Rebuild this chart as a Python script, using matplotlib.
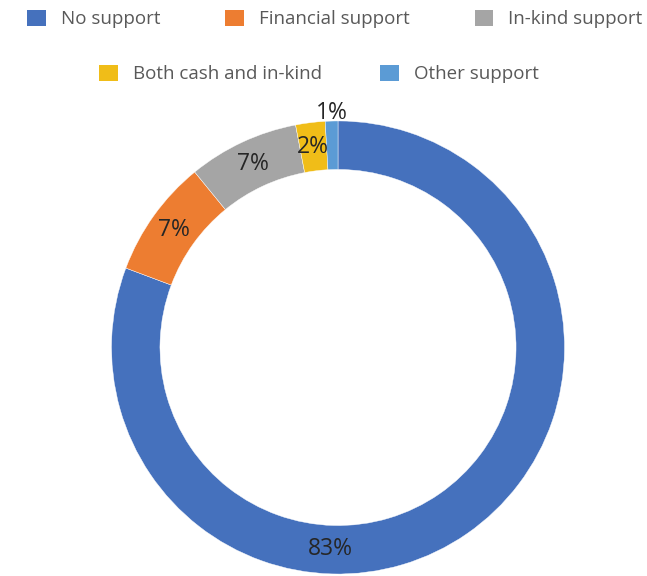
import matplotlib
matplotlib.use("Agg")
import matplotlib.pyplot as plt
import numpy as np
from matplotlib.patches import Patch

plt.rcParams['font.family'] = ['Open Sans', 'DejaVu Sans']

categories = ["No support", "Financial support", "In-kind support",
              "Both cash and in-kind", "Other support"]
values = [80.7, 8.4, 7.9, 2.1, 0.9]
labels = ["83%", "7%", "7%", "2%", "1%"]
colors = ["#4571BD", "#ED7D31", "#A5A5A5", "#F0BD18", "#5B9BD5"]

fig = plt.figure(figsize=(6.47, 5.76), dpi=100)
ax = fig.add_axes([0, 0, 1, 1])

wedges, _ = ax.pie(values, radius=1.0, startangle=90, counterclock=False,
                   colors=colors,
                   wedgeprops=dict(width=0.214, edgecolor='white', linewidth=0.3))

ax.set_xlim(-1.4923, 1.3642)
ax.set_ylim(-1.0088, 1.534)
ax.set_aspect('auto')
ax.axis('off')

# label placement (angle overrides / radii)
angle_override = {0: 267.7}
radius_override = {4: 1.035}
for i, (w, lab) in enumerate(zip(wedges, labels)):
    ang = angle_override.get(i, (w.theta1 + w.theta2) / 2.0)
    r = radius_override.get(i, 0.892)
    x = r * np.cos(np.deg2rad(ang))
    y = r * np.sin(np.deg2rad(ang))
    ax.text(x, y, lab, ha='center', va='center', fontsize=16.5, color='#262626')

handles = [Patch(facecolor=c, edgecolor='none') for c in colors]

common = dict(frameon=False, fontsize=13.5, handlelength=1.0, handleheight=1.0,
              handletextpad=0.8, labelcolor='#595959', borderaxespad=0, borderpad=0)
leg1 = fig.legend(handles[:3], categories[:3], ncol=3, loc='center',
                  bbox_to_anchor=(335 / 647, 1 - 19 / 576), columnspacing=3.45, **common)
leg2 = fig.legend(handles[3:], categories[3:], ncol=2, loc='center',
                  bbox_to_anchor=(319 / 647, 1 - 74 / 576), columnspacing=3.1, **common)

fig.savefig("out.png", dpi=100)
